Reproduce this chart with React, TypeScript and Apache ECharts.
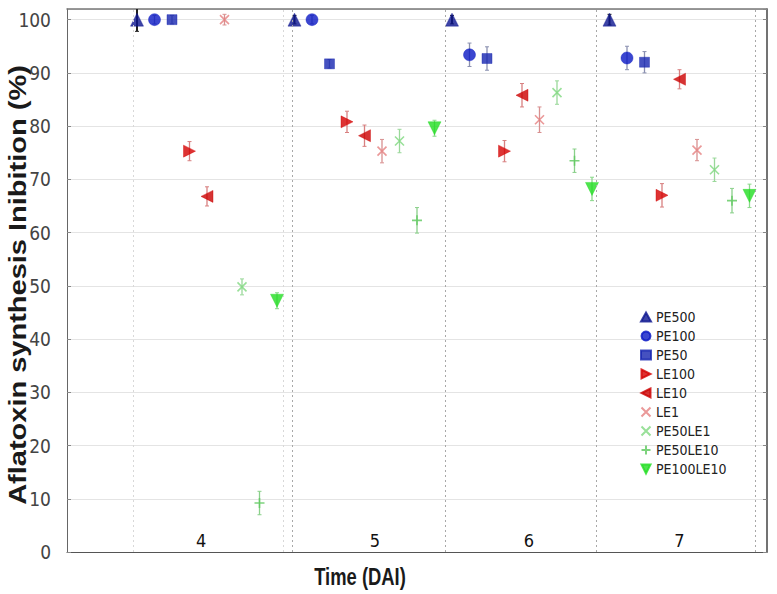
import React, { useEffect, useRef } from "react";
import * as echarts from "echarts";

// ---- data ----
const dayLabels = ["4", "5", "6", "7"];
const dayLabelPos = [4.66, 14.6, 23.4, 32.0];
const separators = [0.77, 9.34, 9.86, 18.6, 27.23, 36.31];
const yTicks = [0, 10, 20, 30, 40, 50, 60, 70, 80, 90, 100];

const seriesNames = ["PE500", "PE100", "PE50", "LE100", "LE10", "LE1", "PE50LE1", "PE50LE10", "PE100LE10"];

const PE500 = [100, 100, 100, 100];
const PE100 = [100, 100, 93.4, 92.8];
const PE50 = [100, 91.7, 92.7, 92.0];
const LE100 = [75.3, 80.8, 75.3, 67.0];
const LE10 = [66.8, 78.2, 85.8, 88.8];
const LE1 = [100, 75.3, 81.2, 75.5];
const PE50LE1 = [49.8, 77.2, 86.3, 71.8];
const PE50LE10 = [9.2, 62.3, 73.5, 66.0];
const PE100LE10 = [47.2, 79.6, 68.2, 66.9];

const PE500_err = [2.2, 0.8, 0.8, 1.0];
const PE100_err = [0.8, 0.8, 2.2, 2.2];
const PE50_err = [0.8, 0.8, 2.2, 2.0];
const LE100_err = [1.8, 2.0, 2.0, 2.2];
const LE10_err = [1.8, 2.0, 2.2, 1.8];
const LE1_err = [1.0, 2.2, 2.4, 2.0];
const PE50LE1_err = [1.5, 2.2, 2.2, 2.2];
const PE50LE10_err = [2.2, 2.4, 2.2, 2.3];
const PE100LE10_err = [1.5, 1.5, 2.2, 2.2];

const values = [PE500, PE100, PE50, LE100, LE10, LE1, PE50LE1, PE50LE10, PE100LE10];
const errors = [PE500_err, PE100_err, PE50_err, LE100_err, LE10_err, LE1_err, PE50LE1_err, PE50LE10_err, PE100LE10_err];

// ---- styles ----
const NARROW = "Liberation Sans Narrow, Arial Narrow, DejaVu Sans Condensed, Liberation Sans, sans-serif";
const colors = ["#0d1590", "#0a18c4", "#1626b0", "#d40000", "#cc0000", "#e58080", "#7fd87f", "#5cc85c", "#22dd22"];
const errColors = ["#222222", "#8a90b0", "#8a90b0", "#d88080", "#d88080", "#d89090", "#9ad89a", "#8ad08a", "#8ad88a"];
const symbols = [
  "triangle",
  "circle",
  "rect",
  "path://M0 0L10 5L0 10Z",
  "path://M10 0L0 5L10 10Z",
  "path://M0 0L10 10M10 0L0 10",
  "path://M0 0L10 10M10 0L0 10",
  "path://M5 0L5 10M0 5L10 5",
  "path://M0 0L10 0L5 10Z",
];
const symbolSizes = [13, 12, 10, 12, 12, 9, 9, 10, 13];
const strokeOnly = [false, false, false, false, false, true, true, true, false];
const GROUP = 9;

export default function App() {
  const ref = useRef<HTMLDivElement>(null);
  useEffect(() => {
    if (!ref.current) return;
    const chart = echarts.init(ref.current, null, { renderer: "svg" });

    const errData: number[][] = [];
    values.forEach((vals, si) => {
      vals.forEach((v, d) => {
        const e = errors[si][d];
        errData.push([d * GROUP + si + 1, v - e, v + e, si]);
      });
    });

    const scatterSeries = seriesNames.map((name, si) => ({
      name,
      type: "scatter",
      z: 3,
      data: values[si].map((v, d) => [d * GROUP + si + 1, v]),
      symbol: symbols[si],
      symbolSize: symbolSizes[si],
      itemStyle: strokeOnly[si]
        ? { color: "rgba(0,0,0,0)", borderColor: colors[si], borderWidth: 1.6 }
        : { color: colors[si], borderColor: colors[si], borderWidth: 0.5 },
      emphasis: { disabled: true },
      ...(si === 0
        ? {
            markLine: {
              silent: true,
              symbol: "none",
              label: { show: false },
              animation: false,
              data: separators.map((x, i) => ({
                xAxis: x,
                lineStyle: {
                  color: i < 2 ? "#d8d8d8" : "#a8a8a8",
                  type: [2, 3],
                  width: 1,
                },
              })),
            },
          }
        : {}),
    }));

    chart.setOption({
      animation: false,
      backgroundColor: "#ffffff",
      grid: { left: 67, right: 10, top: 9, bottom: 42, containLabel: false },
      legend: {
        data: seriesNames,
        orient: "vertical",
        left: 635,
        top: 305,
        itemWidth: 10,
        itemHeight: 9,
        itemGap: 5,
        selectedMode: false,
        textStyle: { fontFamily: NARROW, fontSize: 14, color: "#222" },
      },
      xAxis: [
        {
          type: "value",
          min: -3,
          max: 37,
          position: "bottom",
          splitLine: { show: false },
          axisTick: { show: false },
          axisLine: { show: true, onZero: false, lineStyle: { color: "#555", width: 1 } },
          axisLabel: {
            show: true,
            inside: true,
            margin: 3,
            customValues: dayLabelPos,
            formatter: (v: number) => {
              const i = dayLabelPos.indexOf(v);
              return i >= 0 ? dayLabels[i] : "";
            },
            fontFamily: NARROW,
            fontSize: 18,
            color: "#111",
          },
        },
        {
          type: "value",
          min: -3,
          max: 37,
          position: "top",
          splitLine: { show: false },
          axisTick: { show: false },
          axisLabel: { show: false },
          axisLine: { show: true, onZero: false, lineStyle: { color: "#777", width: 1.5 } },
        },
      ],
      yAxis: [
        {
          type: "value",
          min: 0,
          max: 102,
          interval: 10,
          position: "left",
          axisLine: { show: true, onZero: false, lineStyle: { color: "#666", width: 1 } },
          axisTick: { show: true, inside: true, length: 4, lineStyle: { color: "#888" } },
          axisLabel: {
            margin: 16,
            fontFamily: NARROW,
            fontSize: 19,
            color: "#444",
            showMaxLabel: false,
            formatter: (v: number) => (yTicks.indexOf(v) >= 0 ? String(v) : ""),
          },
          splitLine: { show: true, lineStyle: { color: "#e4e4e4", width: 1 } },
        },
        {
          type: "value",
          min: 0,
          max: 102,
          interval: 10,
          position: "right",
          axisLine: { show: true, onZero: false, lineStyle: { color: "#444", width: 1.5 } },
          axisTick: { show: true, inside: true, length: 4, lineStyle: { color: "#888" } },
          axisLabel: { show: false },
          splitLine: { show: false },
        },
      ],
      graphic: [
        {
          type: "text",
          x: 360,
          y: 577,
          scaleX: 0.8,
          style: {
            text: "Time (DAI)",
            font: "bold 23px Liberation Sans, Arial, sans-serif",
            fill: "#1a1a1a",
            align: "center",
            verticalAlign: "middle",
          },
        },
        {
          type: "text",
          x: 18,
          y: 285,
          rotation: Math.PI / 2,
          scaleY: 0.8,
          style: {
            text: "Aflatoxin synthesis Inibition (%)",
            font: "bold 29px Liberation Sans, Arial, sans-serif",
            fill: "#1a1a1a",
            align: "center",
            verticalAlign: "middle",
          },
        },
      ],
      series: [
        {
          name: "err",
          type: "custom",
          z: 2,
          clip: true,
          silent: true,
          data: errData,
          encode: { x: 0, y: [1, 2] },
          renderItem: (params: any, api: any) => {
            const x = api.value(0);
            const lo = api.coord([x, api.value(1)]);
            const hi = api.coord([x, api.value(2)]);
            const c = errColors[api.value(3)];
            const w = api.value(3) === 0 ? 2 : 1.3;
            return {
              type: "group",
              children: [
                { type: "line", shape: { x1: lo[0], y1: lo[1], x2: hi[0], y2: hi[1] }, style: { stroke: c, lineWidth: w } },
                { type: "line", shape: { x1: lo[0] - 2, y1: lo[1], x2: lo[0] + 2, y2: lo[1] }, style: { stroke: c, lineWidth: 1 } },
                { type: "line", shape: { x1: hi[0] - 2, y1: hi[1], x2: hi[0] + 2, y2: hi[1] }, style: { stroke: c, lineWidth: 1 } },
              ],
            };
          },
        },
        ...scatterSeries,
      ],
    });
    return () => chart.dispose();
  }, []);
  return <div ref={ref} style={{ position: "fixed", left: 0, top: 0, width: 777, height: 594 }} />;
}
